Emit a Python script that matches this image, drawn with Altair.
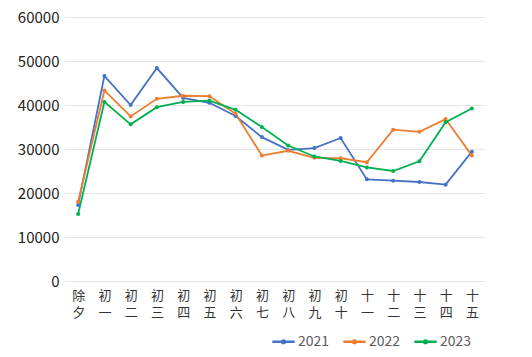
import altair as alt
import pandas as pd

days = ["除夕", "初一", "初二", "初三", "初四", "初五", "初六", "初七", "初八", "初九", "初十",
        "十一", "十二", "十三", "十四", "十五"]
y2021 = [17300, 46600, 40000, 48400, 41600, 40500, 37500, 32700, 29800, 30200, 32500,
         23100, 22800, 22500, 21900, 29400]
y2022 = [18000, 43300, 37400, 41400, 42100, 42000, 38000, 28500, 29600, 28000, 27900,
         27000, 34400, 33900, 36800, 28500]
y2023 = [15200, 40700, 35600, 39500, 40700, 41000, 38900, 35000, 30800, 28300, 27300,
         25800, 25000, 27200, 36100, 39200]

rows = []
for name, vals in [("2021", y2021), ("2022", y2022), ("2023", y2023)]:
    for d, v in zip(days, vals):
        rows.append({"day": d, "value": v, "year": name})
df = pd.DataFrame(rows)

font = "Noto Sans CJK SC"

chart = alt.Chart(df).mark_line(point=alt.OverlayMarkDef(size=16, filled=True), strokeWidth=1.8).encode(
    x=alt.X("day:N", sort=days, title=None,
            scale=alt.Scale(padding=0.5),
            axis=alt.Axis(labelAngle=0, ticks=False, domain=False, grid=False,
                          labelExpr="[substring(datum.label,0,1), substring(datum.label,1,2)]",
                          labelFont=font, labelFontSize=13, labelColor="#333333",
                          labelPadding=8, labelLineHeight=17, labelOverlap=False,
                          labelLimit=0)),
    y=alt.Y("value:Q", title=None,
            scale=alt.Scale(domain=[0, 60000], nice=False),
            axis=alt.Axis(values=[0, 10000, 20000, 30000, 40000, 50000, 60000],
                          format="d",
                          ticks=False, domain=False, gridColor="#e6e6e6",
                          labelFont=font, labelFontSize=15, labelColor="#222222",
                          labelPadding=6)),
    color=alt.Color("year:N", title=None,
                    scale=alt.Scale(domain=["2021", "2022", "2023"],
                                    range=["#4472C4", "#ED7D31", "#00B050"]),
                    legend=alt.Legend(orient="none", direction="horizontal",
                                      legendX=206, legendY=312,
                                      symbolType="M-1,0L1,0M0.12,0A0.12,0.12 0 1 1 -0.12,0A0.12,0.12 0 1 1 0.12,0",
                                      symbolSize=500, symbolStrokeWidth=2.5,
                                      labelFont=font, labelFontSize=14, labelColor="#595959",
                                      columnPadding=8, labelOffset=2))
).properties(
    width=420, height=264,
    autosize=alt.AutoSizeParams(type="none"),
    padding={"left": 57, "top": 9, "right": 39, "bottom": 68}
).configure_view(stroke=None)

chart.save("out.html", embed_options={"renderer": "svg", "actions": False})
